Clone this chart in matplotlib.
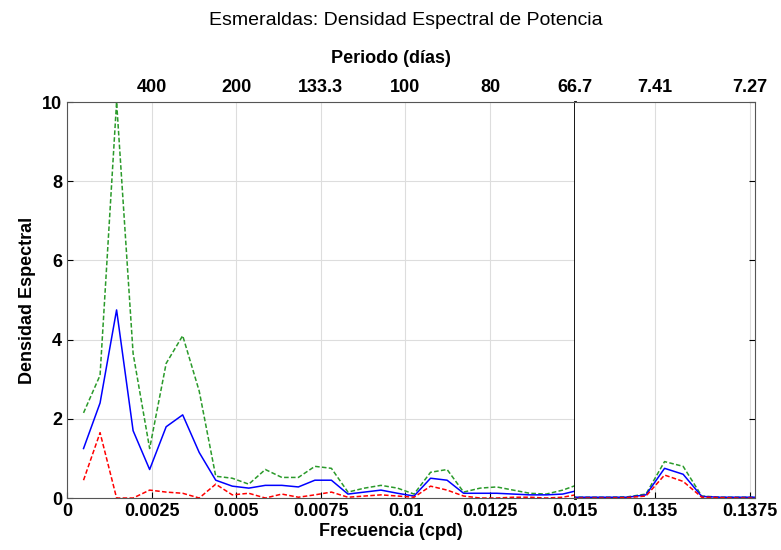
import numpy as np
import matplotlib.pyplot as plt

plt.rcParams['font.family'] = ['Liberation Sans', 'DejaVu Sans']

# low-frequency band (k/2048 cpd)
k_low = np.arange(1, 32)
green_low = [2.15, 3.1, 10.0, 3.65, 1.25, 3.4, 4.1, 2.7, 0.55, 0.5, 0.35, 0.72, 0.52, 0.52,
             0.8, 0.75, 0.15, 0.25, 0.32, 0.25, 0.1, 0.65, 0.72, 0.15, 0.25, 0.28, 0.2,
             0.12, 0.1, 0.2, 0.35]
blue_low = [1.25, 2.4, 4.75, 1.7, 0.72, 1.8, 2.1, 1.15, 0.45, 0.3, 0.25, 0.32, 0.32, 0.28,
            0.45, 0.45, 0.1, 0.15, 0.2, 0.12, 0.05, 0.5, 0.45, 0.12, 0.12, 0.12, 0.1,
            0.08, 0.08, 0.1, 0.2]
red_low = [0.45, 1.65, 0.0, 0.0, 0.2, 0.15, 0.12, 0.0, 0.35, 0.08, 0.12, 0.0, 0.1, 0.02,
           0.08, 0.15, 0.02, 0.05, 0.08, 0.05, 0.02, 0.3, 0.2, 0.05, 0.0, 0.0, 0.02,
           0.02, 0.0, 0.02, 0.1]

# high-frequency band
k_high = np.arange(272, 283)
green_high = [0.02, 0.02, 0.02, 0.03, 0.1, 0.92, 0.8, 0.05, 0.02, 0.02, 0.02]
blue_high = [0.02, 0.02, 0.02, 0.02, 0.08, 0.75, 0.6, 0.04, 0.02, 0.02, 0.02]
red_high = [0.0, 0.0, 0.0, 0.01, 0.05, 0.58, 0.42, 0.02, 0.01, 0.0, 0.0]

low_ticks = [0, 0.0025, 0.005, 0.0075, 0.01, 0.0125, 0.015]
low_labels = ['0', '0.0025', '0.005', '0.0075', '0.01', '0.0125', '0.015']
low_top = ['', '400', '200', '133.3', '100', '80', '66.7']
high_ticks = [0.135, 0.1375]
high_labels = ['0.135', '0.1375']
high_top = ['7.41', '7.27']

fig = plt.figure(figsize=(7.81, 5.5), dpi=100)
ax1 = fig.add_axes([0.0858, 0.0945, 0.650, 0.72])
ax2 = fig.add_axes([0.7362, 0.0945, 0.2305, 0.72])

def draw(ax, f, g, b, r):
    ax.plot(f, g, color='#2a9a2a', ls=(0, (3, 1.5)), lw=1.1)
    ax.plot(f, b, color='blue', ls='-', lw=1.1)
    ax.plot(f, r, color='red', ls=(0, (3, 1.5)), lw=1.1)
    ax.set_ylim(0, 10)

draw(ax1, k_low / 2048, green_low, blue_low, red_low)
draw(ax2, k_high / 2048, green_high, blue_high, red_high)

ax1.set_xlim(0, 0.015)
ax2.set_xlim(0.1329, 0.13763)
ax1.set_xticks(low_ticks)
ax1.set_xticklabels(low_labels)
ax2.set_xticks(high_ticks)
ax2.set_xticklabels(high_labels)
ax1.set_yticks([0, 2, 4, 6, 8, 10])
ax2.set_yticks([0, 2, 4, 6, 8, 10])
ax2.yaxis.tick_right()
ax2.set_yticklabels([])
ax1.grid(True, color='#dddddd', lw=0.8)
ax2.grid(True, axis='x', color='#dddddd', lw=0.8)

for ax, ticks, top in [(ax1, low_ticks, low_top), (ax2, high_ticks, high_top)]:
    tw = ax.twiny()
    tw.set_xlim(ax.get_xlim())
    tw.set_xticks(ticks)
    tw.set_xticklabels(top)
    tw.tick_params(length=0, labelsize=13, pad=4)
    for lbl in tw.get_xticklabels():
        lbl.set_fontweight('bold')
    for sp in tw.spines.values():
        sp.set_visible(False)
    ax.tick_params(direction='in', labelsize=13, length=4)
    for lbl in ax.get_xticklabels() + ax.get_yticklabels():
        lbl.set_fontweight('bold')
    for sp in ax.spines.values():
        sp.set_color('#555555')

ax1.spines['right'].set_color('black')
ax1.spines['right'].set_linewidth(2)
ax2.spines['left'].set_visible(False)
ax2.tick_params(axis='y', left=False)

ax1.set_ylabel('Densidad Espectral', fontsize=13, fontweight='bold')
fig.text(0.5, 0.025, 'Frecuencia (cpd)', ha='center', fontsize=13, fontweight='bold')
fig.text(0.5, 0.885, 'Periodo (días)', ha='center', fontsize=13, fontweight='bold')
fig.text(0.52, 0.955, 'Esmeraldas: Densidad Espectral de Potencia', ha='center', fontsize=14)

fig.savefig('out.png', dpi=100)
